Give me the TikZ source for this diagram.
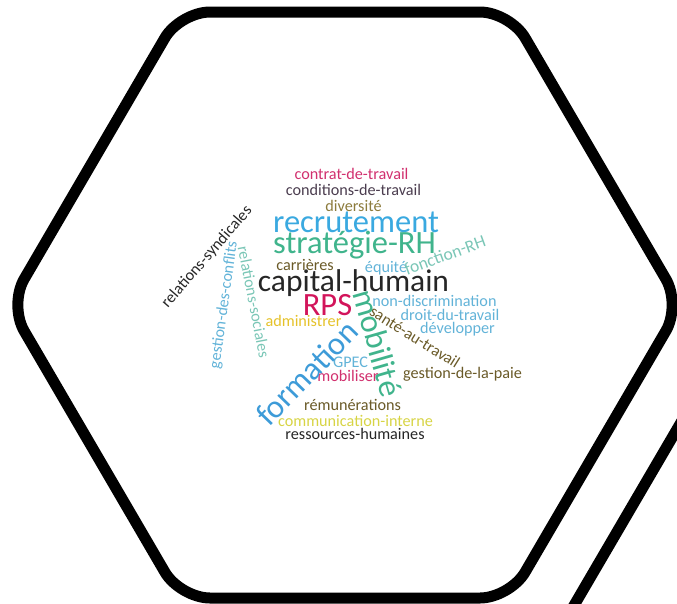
\documentclass[tikz,border=0pt]{standalone}
\usepackage{fontspec}
\setmainfont{Carlito}
\usepackage{xcolor}

\definecolor{cpink}{HTML}{D1306E}
\definecolor{cplum}{HTML}{4B3D4F}
\definecolor{colive}{HTML}{8C7B3C}
\definecolor{cbrown}{HTML}{6A5A28}
\definecolor{csky}{HTML}{3AA9E0}
\definecolor{cgreen}{HTML}{40B48C}
\definecolor{clblue}{HTML}{62B3D8}
\definecolor{cmint}{HTML}{7AC6B6}
\definecolor{cdark}{HTML}{262626}
\definecolor{cred}{HTML}{D2145A}
\definecolor{cyellow}{HTML}{E5C22A}
\definecolor{clime}{HTML}{D7D445}
\definecolor{cblue}{HTML}{3D9BD8}

\begin{document}
\begin{tikzpicture}[x=1pt, y=-1pt,
  small/.style={font=\fontsize{16.2}{18}\selectfont},
  big/.style={font=\fontsize{32.5}{36}\selectfont}]
\tikzstyle{every node}=[inner sep=0pt, outer sep=0pt]
\useasboundingbox (0,0) rectangle (677,603);
\clip (0,0) rectangle (677,603);

% hexagon frame
\draw[line width=11pt, rounded corners=30pt]
  (180,12) -- (510,12) -- (681,305) -- (510,598) -- (180,598) -- (9,305) -- cycle;
\draw[line width=11pt] (569,614) -- (690,407);

% horizontal words
\foreach \n/\x/\y/\c/\t in {
  contrat/351.5/179/cpink/contrat-de-travail,
  conditions/353.5/195/cplum/conditions-de-travail,
  diversite/353.5/211.5/colive/diversité,
  carrieres/305/270/cbrown/carrières,
  equite/386/272.5/clblue/équité,
  nondiscr/434.5/306/clblue/non-discrimination,
  droit/450/320/clblue/droit-du-travail,
  developper/457.5/333/clblue/développer,
  administrer/303.5/326.5/cyellow/administrer,
  gpec/350.5/367/clblue/GPEC,
  mobiliser/348/381.5/cpink/mobiliser,
  paie/462.5/378/cbrown/gestion-de-la-paie,
  remun/352.5/410/cbrown/rémunérations,
  communication/355.5/426.5/clime/communication-interne,
  ressources/355/439/cdark/ressources-humaines}
  {\node[small, anchor=base, text=\c] (\n) at (\x,\y) {\t};}

\node[big, anchor=base, text=csky] (recrutement) at (356,232.5) {recrutement};
\node[big, anchor=base, text=cgreen] (strategie) at (354.5,253) {stratégie-RH};
\node[anchor=base, text=cdark, font=\fontsize{31.5}{34}\selectfont] (capital) at (353.5,291.5) {capital-humain};
\node[big, anchor=base, text=cred] (rps) at (327.5,315) {RPS};

% rotated words
\node[text=cmint, rotate=20, font=\fontsize{17.5}{19}\selectfont] (fonction) at (445,255) {fonction-RH};
\node[small, text=cdark, rotate=49] (syndicales) at (207,257) {relations-syndicales};
\node[small, text=clblue, rotate=82] (conflits) at (224,305) {gestion-des-conflits};
\node[small, text=cmint, rotate=-79] (sociales) at (254,302) {relations-sociales};
\node[small, text=cbrown, rotate=-32] (sante) at (415,337) {santé-au-travail};
\node[big, text=cgreen, rotate=-74] (mobilite) at (378,343) {mobilité};
\node[big, text=cblue, rotate=46] (formation) at (307,373) {formation};
\end{tikzpicture}
\end{document}
